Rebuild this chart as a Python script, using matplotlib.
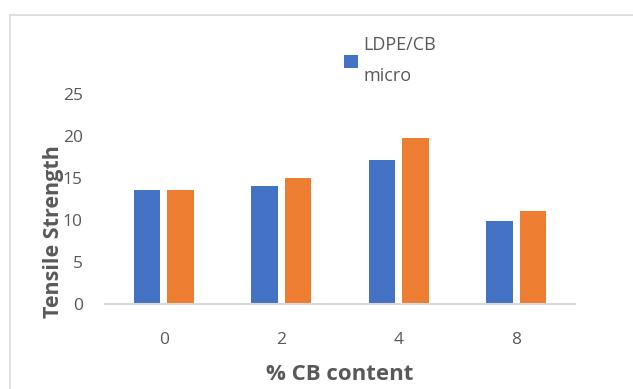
import matplotlib
matplotlib.use("Agg")
import matplotlib.pyplot as plt
import numpy as np
from matplotlib.lines import Line2D

categories = ["0", "2", "4", "8"]
micro = [13.6, 14.0, 17.1, 9.9]
nano = [13.6, 15.0, 19.8, 11.1]
series_names = ["LDPE/CB\nmicro", "LDPE/CB nano"]
yticks = [0, 5, 10, 15, 20, 25]

W, H = 633, 389
plt.rcParams['font.family'] = ['Open Sans', 'DejaVu Sans']
fig = plt.figure(figsize=(W / 100, H / 100), dpi=100)
fig.patch.set_facecolor("white")

ax = fig.add_axes([105 / W, 1 - 304 / H, (575 - 105) / W, (304 - 94) / H])
x = np.arange(len(categories))
bw = 0.226
off = 0.1425
b1 = ax.bar(x - off, micro, bw, color="#4472C4", label=series_names[0])
b2 = ax.bar(x + off, nano, bw, color="#ED7D31", label=series_names[1])

ax.set_xlim(-0.5, len(categories) - 0.5)
ax.set_ylim(0, 25)
ax.set_yticks(yticks)
ax.set_xticks(x)
ax.set_xticklabels(categories)
for s in ["top", "right", "left"]:
    ax.spines[s].set_visible(False)
ax.spines["bottom"].set_color("#d9d9d9")
ax.spines["bottom"].set_linewidth(1.5)
ax.tick_params(axis="both", length=0, colors="#595959", labelsize=12.5)
ax.tick_params(axis="y", pad=16)
ax.tick_params(axis="x", pad=20)
ax.set_facecolor("none")

fig.text(340 / W, 1 - 375 / H, "% CB content", ha="center", va="center",
         fontsize=16, fontweight="bold", color="#595959")
fig.text(54 / W, 1 - 232 / H, "Tensile Strength", ha="center", va="center",
         rotation=90, fontsize=15.5, fontweight="bold", color="#595959")

leg = ax.legend(handles=[b1], labels=[series_names[0]], loc="upper left",
                bbox_to_anchor=(328 / W, 1 - 20 / H), bbox_transform=fig.transFigure,
                frameon=False, handlelength=0.75, handleheight=0.75,
                handletextpad=0.3, fontsize=13, labelcolor="#595959")
leg.get_texts()[0].set_linespacing(1.9)

fig.add_artist(Line2D([10 / W, 1], [1 - 15 / H, 1 - 15 / H], color="#d9d9d9", lw=1.2,
                      transform=fig.transFigure))
fig.add_artist(Line2D([10 / W, 10 / W], [0, 1 - 15 / H], color="#d9d9d9", lw=1.2,
                      transform=fig.transFigure))

fig.savefig("out.png", dpi=100)
